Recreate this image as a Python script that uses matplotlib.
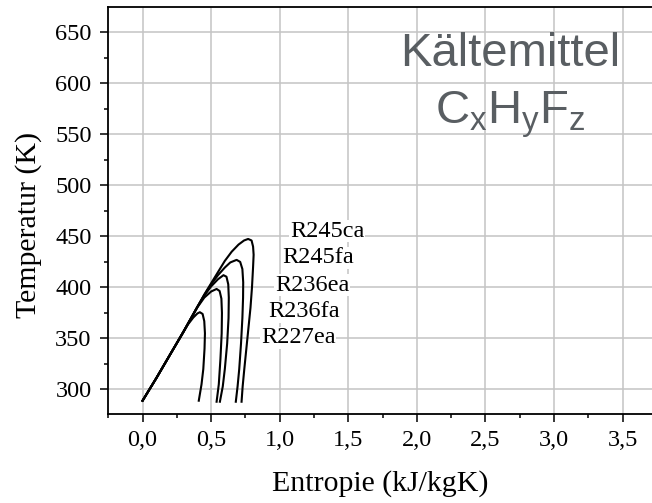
import matplotlib
matplotlib.use('Agg')
from matplotlib import pyplot as plt
from matplotlib.ticker import MultipleLocator

plt.rcParams['font.family'] = 'Liberation Serif'
plt.rcParams['mathtext.fontset'] = 'custom'
plt.rcParams['mathtext.rm'] = 'Liberation Sans'

# saturation curves: entropie (kJ/kgK), temperatur (K)
s_r245ca = [0.0, 0.1, 0.2, 0.3, 0.4, 0.45, 0.5, 0.55, 0.6, 0.65, 0.7, 0.74, 0.77,
            0.795, 0.806, 0.81, 0.806, 0.798, 0.787, 0.772, 0.757, 0.742, 0.73, 0.722]
t_r245ca = [289, 311, 334, 357, 381, 393, 404, 415, 426, 435, 442, 446, 447.5,
            446, 440, 432, 420, 400, 380, 360, 340, 320, 303, 288]

s_r245fa = [0.0, 0.1, 0.2, 0.3, 0.4, 0.45, 0.5, 0.55, 0.6, 0.64, 0.686,
            0.712, 0.728, 0.734, 0.733, 0.728, 0.718, 0.705, 0.693, 0.68]
t_r245fa = [289, 311, 334, 357, 381, 392.5, 403, 412, 419.5, 424.5, 427,
            425, 418, 405, 390, 370, 345, 320, 303, 288]

s_r236ea = [0.0, 0.1, 0.2, 0.3, 0.4, 0.45, 0.5, 0.55, 0.59,
            0.612, 0.625, 0.629, 0.627, 0.617, 0.6, 0.585, 0.564]
t_r236ea = [289, 311, 334, 357, 381, 392, 401, 408, 412,
            410.5, 403, 390, 370, 345, 320, 303, 288]

s_r236fa = [0.0, 0.1, 0.2, 0.3, 0.4, 0.45, 0.5, 0.54,
            0.562, 0.575, 0.579, 0.577, 0.568, 0.556, 0.54]
t_r236fa = [289, 311, 334, 357, 380.5, 390, 396, 398.5,
            396.5, 389, 375, 355, 330, 305, 288]

s_r227ea = [0.0, 0.1, 0.2, 0.28, 0.33, 0.37, 0.4, 0.418,
            0.438, 0.45, 0.455, 0.452, 0.443, 0.43, 0.41]
t_r227ea = [289, 311, 334, 352, 363.5, 370.5, 374.5, 375.7,
            374, 367, 355, 340, 320, 305, 289]

curve_names = ['R245ca', 'R245fa', 'R236ea', 'R236fa', 'R227ea']
label_s = [1.074, 1.021, 0.965, 0.916, 0.863]
label_t = [449.8, 423.7, 396.9, 370.8, 345.3]

xticks = [0.0, 0.5, 1.0, 1.5, 2.0, 2.5, 3.0, 3.5]
xtick_labels = ['0,0', '0,5', '1,0', '1,5', '2,0', '2,5', '3,0', '3,5']
yticks = [300, 350, 400, 450, 500, 550, 600, 650]

fig = plt.figure(figsize=(6.52, 5.03), dpi=100)
ax = fig.add_axes([0.165, 0.177, 0.835, 0.8085])

curves = [(s_r245ca, t_r245ca), (s_r245fa, t_r245fa), (s_r236ea, t_r236ea),
          (s_r236fa, t_r236fa), (s_r227ea, t_r227ea)]
for s, t in curves:
    ax.plot(s, t, color='black', linewidth=1.5, zorder=3)

for name, xs, yt in zip(curve_names, label_s, label_t):
    ax.text(xs, yt, name, fontsize=17.5, ha='left', va='baseline', zorder=4,
            bbox=dict(facecolor='white', edgecolor='none', pad=0.3))

# Kältemittel note, upper right
ax.text(2.682, 616.5, 'Kältemittel', family='Liberation Sans',
        fontsize=34, color='#595e62', ha='center', va='baseline')
ax.text(2.682, 560.3, r'$\mathregular{C_xH_yF_z}$', family='Liberation Sans',
        fontsize=34, color='#595e62', ha='center', va='baseline')

ax.set_xlim(-0.255, 3.715)
ax.set_ylim(276, 674.5)
ax.set_xticks(xticks)
ax.set_xticklabels(xtick_labels)
ax.set_yticks(yticks)
ax.xaxis.set_minor_locator(MultipleLocator(0.25))
ax.yaxis.set_minor_locator(MultipleLocator(25))
ax.tick_params(which='major', direction='out', length=5.5, width=1.1,
               labelsize=17.5, pad=6)
ax.tick_params(which='minor', direction='out', length=3, width=1.1)
ax.tick_params(axis='x', which='both', top=False)
ax.tick_params(axis='y', which='both', right=False)
ax.grid(True, which='major', color='#c4c4c4', linewidth=1.1)
ax.set_axisbelow(True)
for side in ['left', 'bottom', 'top']:
    ax.spines[side].set_linewidth(1.3)
ax.spines['right'].set_visible(False)

ax.set_xlabel('Entropie (kJ/kgK)', fontsize=21.5, labelpad=14)
ax.set_ylabel('Temperatur (K)', fontsize=21.5)
ax.yaxis.set_label_coords(-0.12, 0.464)

fig.savefig('out.png', dpi=100)
